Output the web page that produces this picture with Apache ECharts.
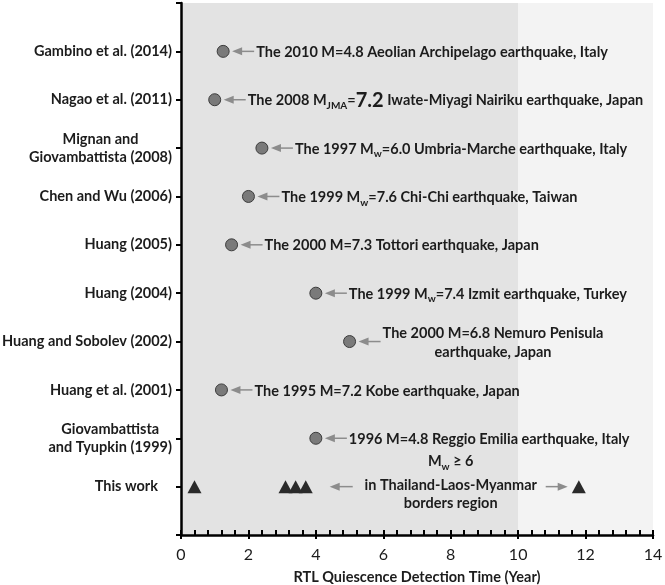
<!DOCTYPE html>
<html>
<head>
<meta charset="utf-8">
<script src="https://cdn.jsdelivr.net/npm/echarts@6/dist/echarts.min.js"></script>
<style>
  html, body { margin: 0; padding: 0; background: #fff; }
  #chart { width: 665px; height: 585px; }
</style>
</head>
<body>
<div id="chart"></div>
<script>
// studies, listed top to bottom as in the figure
var studies = [
  'Gambino et al. (2014)',
  'Nagao et al. (2011)',
  'Mignan and\nGiovambattista (2008)',
  'Chen and Wu (2006)',
  'Huang (2005)',
  'Huang (2004)',
  'Huang and Sobolev (2002)',
  'Huang et al. (2001)',
  'Giovambattista\nand Tyupkin (1999)',
  'This work'
];
// detection time (year) for each earlier study
var detectionTimes = [1.25, 1.0, 2.4, 2.0, 1.5, 4.0, 5.0, 1.2, 4.0, null];
var earthquakes = [
  'The 2010 M=4.8 Aeolian Archipelago earthquake, Italy',
  'The 2008 M{sub|JMA}={big|7.2} Iwate-Miyagi Nairiku earthquake, Japan',
  'The 1997 M{sub|w}=6.0 Umbria-Marche earthquake, Italy',
  'The 1999 M{sub|w}=7.6 Chi-Chi earthquake, Taiwan',
  'The 2000 M=7.3 Tottori earthquake, Japan',
  'The 1999 M{sub|w}=7.4 Izmit earthquake, Turkey',
  '{c|The 2000 M=6.8 Nemuro Penisula}\n{c|earthquake, Japan}',
  'The 1995 M=7.2 Kobe earthquake, Japan',
  '1996 M=4.8 Reggio Emilia earthquake, Italy',
  null
];
// this work: detection times of the Mw >= 6 events
var thisWorkTimes = [0.4, 3.1, 3.4, 3.7, 11.8];
var thisWorkNote = ['M{sub|w} ≥ 6', 'in Thailand-Laos-Myanmar', 'borders region'];
var thisWorkNoteAt = 8.0;
// shaded detection window (years)
var windowEnd = 10;
var X_MAX = 14;

var FONT = 'Lato';
var FS = 14.5;
var INK = '#1c1c1c';
var ARROW = '#8c8c8c';

function rowOf(i) { return studies.length - i; }

var circleData = [];
var noteData = [];
detectionTimes.forEach(function (t, i) {
  if (t == null) return;
  circleData.push([t, rowOf(i)]);
  noteData.push([t, rowOf(i), i]);
});
var triangleData = thisWorkTimes.map(function (t) { return [t, rowOf(studies.length - 1)]; });

var richText = {
  sub: { fontFamily: FONT, fontWeight: 'bold', fontSize: 10, color: INK, verticalAlign: 'bottom', lineHeight: 20 },
  big: { fontFamily: FONT, fontWeight: 'bold', fontSize: 20, color: INK },
  c: { fontFamily: FONT, fontWeight: 'bold', fontSize: FS, color: INK, align: 'center', lineHeight: 19 }
};

function arrow(xTail, xTip, y) {
  var dir = xTip < xTail ? 1 : -1;
  return [
    { type: 'line', shape: { x1: xTail, y1: y, x2: xTip + dir * 6, y2: y },
      style: { stroke: ARROW, lineWidth: 1.5 } },
    { type: 'polygon', shape: { points: [[xTip, y], [xTip + dir * 10, y - 4], [xTip + dir * 10, y + 4]] },
      style: { fill: ARROW } }
  ];
}

var split = windowEnd / X_MAX;
var bandFill = new echarts.graphic.LinearGradient(0, 0, 1, 0, [
  { offset: 0, color: '#e3e3e3' },
  { offset: split, color: '#e3e3e3' },
  { offset: split, color: '#f3f3f3' },
  { offset: 1, color: '#f3f3f3' }
]);

var chart = echarts.init(document.getElementById('chart'));

chart.setOption({
  backgroundColor: '#ffffff',
  animation: false,
  grid: {
    left: 181, right: 12, top: 3, bottom: 50, outerBoundsMode: 'none',
    show: true, backgroundColor: bandFill, borderWidth: 0
  },
  xAxis: [{
    type: 'value', min: 0, max: X_MAX, interval: 2, z: 10,
    name: 'RTL Quiescence Detection Time (Year)',
    nameLocation: 'middle', nameGap: 35,
    nameTextStyle: { fontFamily: FONT, fontWeight: 'bold', fontSize: FS, color: INK },
    axisLine: { show: true, lineStyle: { color: '#000', width: 2.5 } },
    axisTick: { show: true, inside: true, length: 5, lineStyle: { color: '#000', width: 2 } },
    minorTick: { show: true, splitNumber: 5, length: 5, lineStyle: { color: '#000', width: 2 } },
    axisLabel: { margin: 12, fontFamily: FONT, fontSize: 16, color: INK },
    splitLine: { show: false }
  }, {
    type: 'value', min: 0, max: X_MAX, interval: 2, position: 'bottom', z: 10,
    axisLine: { show: false },
    axisTick: { show: true, length: 4, lineStyle: { color: '#000', width: 2 } },
    axisLabel: { show: false },
    splitLine: { show: false }
  }],
  yAxis: {
    type: 'value', min: 0, max: studies.length + 1, interval: 1, z: 10,
    axisLine: { show: true, lineStyle: { color: '#000', width: 2.5 } },
    axisTick: { show: true, length: 5, lineStyle: { color: '#000', width: 2 } },
    splitLine: { show: false },
    axisLabel: {
      margin: 9,
      formatter: function (v) {
        var i = studies.length - v;
        if (i < 0 || i >= studies.length) return '';
        if (i === studies.length - 1) return '{p|' + studies[i] + '}';
        return studies[i].split('\n').map(function (l) { return '{c|' + l + '}'; }).join('\n');
      },
      rich: {
        c: { fontFamily: FONT, fontWeight: 'bold', fontSize: FS, color: INK, align: 'center', lineHeight: 18 },
        p: { fontFamily: FONT, fontWeight: 'bold', fontSize: FS, color: INK, padding: [0, 14, 0, 0] }
      }
    }
  },
  series: [{
    type: 'scatter', data: circleData, symbol: 'circle', symbolSize: 12, z: 3,
    itemStyle: { color: '#7a7a7a', borderColor: '#3c3c3c', borderWidth: 1, opacity: 1 }
  }, {
    type: 'scatter', data: triangleData, symbol: 'triangle', symbolSize: [14, 13], z: 3,
    itemStyle: { color: '#2a2a2a', opacity: 1 }
  }, {
    // earthquake notes with arrows
    type: 'custom', data: noteData, z: 4, silent: true,
    renderItem: function (params, api) {
      var p = api.coord([api.value(0), api.value(1)]);
      var i = api.value(2);
      var children = arrow(p[0] + 31, p[0] + 9, p[1]);
      children.push({
        type: 'text',
        style: {
          x: p[0] + 33, y: p[1] + 1, text: earthquakes[i], align: 'left', verticalAlign: 'middle',
          fontFamily: FONT, fontWeight: 'bold', fontSize: FS, fill: INK, rich: richText
        }
      });
      return { type: 'group', children: children };
    }
  }, {
    // this work note
    type: 'custom', data: [[thisWorkNoteAt, rowOf(studies.length - 1)]], z: 4, silent: true,
    renderItem: function (params, api) {
      var p = api.coord([api.value(0), api.value(1)]);
      var children = arrow(p[0] - 98, p[0] - 121, p[1]).concat(arrow(p[0] + 95, p[0] + 117, p[1]));
      var dy = [-25, -1, 17];
      thisWorkNote.forEach(function (t, k) {
        children.push({
          type: 'text',
          style: {
            x: p[0], y: p[1] + dy[k], text: t, align: 'center', verticalAlign: 'middle',
            fontFamily: FONT, fontWeight: 'bold', fontSize: FS, fill: INK, rich: richText
          }
        });
      });
      return { type: 'group', children: children };
    }
  }]
});
</script>
</body>
</html>
